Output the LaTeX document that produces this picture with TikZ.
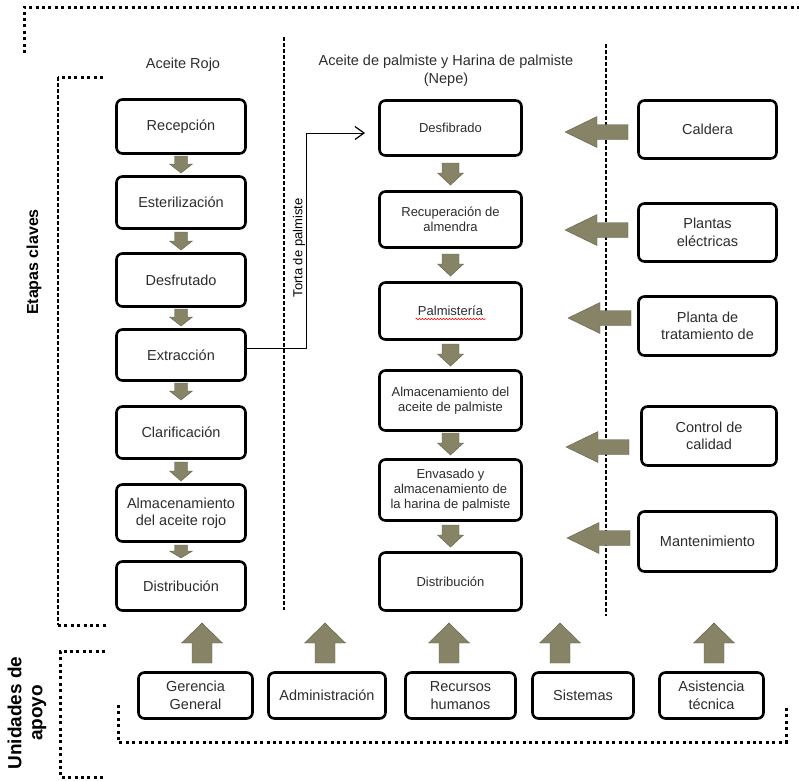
\documentclass[tikz,border=0pt]{standalone}
\usepackage{fontspec}
\setmainfont{Liberation Sans}
\usetikzlibrary{arrows.meta,decorations.pathmorphing}
\definecolor{khaki}{RGB}{134,131,103}
\definecolor{khakidark}{RGB}{96,94,72}
\definecolor{txtgray}{RGB}{45,45,45}
\tikzset{
  box/.style={draw=black, line width=2.6pt, rounded corners=6pt, fill=white, align=center, text=txtgray, inner sep=0pt, font=\fontsize{14.5}{17.5}\selectfont},
  midbox/.style={box, font=\fontsize{13}{15}\selectfont},
  dotline/.style={line width=3pt, dash pattern=on 3pt off 3.4pt},
  dashline/.style={line width=1.6pt, dash pattern=on 4pt off 2pt},
  colline/.style={line width=1.2pt, dash pattern=on 4pt off 2pt},
  blockfill/.style={fill=khaki, draw=khakidark, line width=0.4pt},
  pics/barrow/.style args={#1/#2/#3/#4}{code={
    \filldraw[blockfill] (-#1,-#3) -- (#1,-#3) -- (#1,0) -- (#2,0) -- (0,#4) -- (-#2,0) -- (-#1,0) -- cycle;}},
  header/.style={text=txtgray, align=center, font=\fontsize{14.5}{18}\selectfont},
  sidelabel/.style={rotate=90, align=center, font=\bfseries\fontsize{16}{18}\selectfont},
}
\begin{document}
\begin{tikzpicture}[x=1pt,y=-1pt]
\useasboundingbox (0,0) rectangle (799,780);

% outer dotted frames
\coordinate (topL) at (24,7);
\coordinate (topR) at (799,7);
\coordinate (topD) at (24,53);
\draw[dotline] (topD) -- (topL) -- (topR);

\coordinate (etA) at (103,77);
\coordinate (etB) at (58,77);
\coordinate (etC) at (58,625);
\coordinate (etD) at (107,625);
\draw[dotline] (etA) -- (etB);
\draw[dashline] (etB) -- (etC);
\draw[dotline] (etC) -- (etD);

\coordinate (unA) at (105,651);
\coordinate (unB) at (60,651);
\coordinate (unC) at (60,777);
\coordinate (unD) at (105,777);
\draw[dotline] (unA) -- (unB) -- (unC) -- (unD);

\coordinate (boA) at (118,705);
\coordinate (boB) at (118,742);
\coordinate (boC) at (786,742);
\coordinate (boD) at (786,705);
\draw[dotline] (boA) -- (boB) -- (boC) -- (boD);

% column separators
\coordinate (s1t) at (284,37);
\coordinate (s1b) at (284,610);
\coordinate (s2t) at (606,44);
\coordinate (s2b) at (606,616);
\draw[colline] (s1t) -- (s1b);
\draw[colline] (s2t) -- (s2b);

% side labels
\node[sidelabel] (etapas) at (34,262) {Etapas claves};
\node[sidelabel, font=\bfseries\fontsize{19}{21}\selectfont] (unidades) at (27,713) {Unidades de\\apoyo};

% headers
\node[header] (hrojo) at (183,65) {Aceite Rojo};
\node[header] (hpalm) at (446,71) {Aceite de palmiste y Harina de palmiste\\(Nepe)};

% left column
\node[box, minimum width=129, minimum height=54] (rec) at (181,126.5) {Recepción};
\node[box, minimum width=129, minimum height=52] (est) at (181,202.5) {Esterilización};
\node[box, minimum width=129, minimum height=53] (desf) at (181,280) {Desfrutado};
\node[box, minimum width=129, minimum height=51] (ext) at (181,355) {Extracción};
\node[box, minimum width=129, minimum height=52] (cla) at (181,432.5) {Clarificación};
\node[box, minimum width=129, minimum height=57] (alr) at (181,513) {Almacenamiento\\del aceite rojo};
\node[box, minimum width=129, minimum height=49] (disl) at (181,586) {Distribución};

\pic at (181,164) {barrow=6.5/11.5/8/9};
\pic at (181,241) {barrow=6.5/11.5/9/9};
\pic at (181,317) {barrow=6.5/11.5/8/9};
\pic at (181,391) {barrow=6.5/11.5/8/9};
\pic at (181,471) {barrow=6.5/11.5/9/10};
\pic at (181,551) {barrow=6.5/11.5/6/7};

% middle column
\node[midbox, minimum width=142, minimum height=55] (desfib) at (450.5,128) {Desfibrado};
\node[midbox, minimum width=142, minimum height=56] (recu) at (450.5,219.5) {Recuperación de\\almendra};
\node[midbox, minimum width=142, minimum height=57] (palm) at (450.5,311) {Palmistería};
\node[midbox, minimum width=142, minimum height=60] (alp) at (450.5,400.5) {Almacenamiento del\\aceite de palmiste};
\node[midbox, minimum width=142, minimum height=61] (env) at (450.5,490) {Envasado y\\almacenamiento de\\la harina de palmiste};
\node[midbox, minimum width=142, minimum height=58] (dism) at (450.5,581.5) {Distribución};
\draw[red, line width=0.6pt, decorate, decoration={snake, amplitude=0.7pt, segment length=3pt}]
  ([xshift=-35pt,yshift=-8pt]palm.center) -- ([xshift=35pt,yshift=-8pt]palm.center);

\pic at (450.5,173) {barrow=8.5/13/10/12};
\pic at (450.5,264) {barrow=8.5/13/10/12};
\pic at (450.5,354) {barrow=8.5/13/10/12};
\pic at (450.5,443) {barrow=8.5/13/10/12};
\pic at (450.5,535) {barrow=8.5/13/10/12};

% right column
\node[box, minimum width=138, minimum height=58] (cal) at (707.5,129.5) {Caldera};
\node[box, minimum width=138, minimum height=58] (ple) at (707.5,232.5) {Plantas\\eléctricas};
\node[box, minimum width=138, minimum height=59] (plt) at (707.5,326) {Planta de\\tratamiento de};
\node[box, minimum width=135, minimum height=59] (con) at (709,436) {Control de\\calidad};
\node[box, minimum width=138, minimum height=60] (man) at (707.5,541.5) {Mantenimiento};

\pic[rotate=-90] at (597,132) {barrow=7.5/15.5/31/32};
\pic[rotate=-90] at (597,230) {barrow=7.5/15.5/31/32};
\pic[rotate=-90] at (600,318) {barrow=7.5/15.5/31/32};
\pic[rotate=-90] at (598,447) {barrow=7.5/15.5/31/32};
\pic[rotate=-90] at (599,538) {barrow=7.5/15.5/31/32};

% bottom support units
\node[box, minimum width=114, minimum height=46] (ger) at (195.5,695.5) {Gerencia\\General};
\node[box, minimum width=117, minimum height=46] (adm) at (327,695.5) {Administración};
\node[box, minimum width=110, minimum height=46] (rrh) at (460.5,695.5) {Recursos\\humanos};
\node[box, minimum width=101, minimum height=46] (sis) at (583,695.5) {Sistemas};
\node[box, minimum width=104, minimum height=46] (asi) at (711.5,695.5) {Asistencia\\técnica};

\pic[rotate=180] at (202,643) {barrow=10/20.5/20/20};
\pic[rotate=180] at (325,643) {barrow=10/20.5/20/20};
\pic[rotate=180] at (449,643) {barrow=10/20.5/20/20};
\pic[rotate=180] at (560,643) {barrow=10/20.5/20/20};
\pic[rotate=180] at (714,643) {barrow=10/20.5/20/20};

% torta de palmiste connector
\coordinate (tortaend) at (365,133);
\draw[line width=1pt, -{Straight Barb[length=9pt,width=13pt,line width=1.2pt]}]
  ([yshift=7pt]ext.east) -- ++(60,0) |- (tortaend);
\node[rotate=90, font=\fontsize{13}{15}\selectfont] (torta) at (299,248) {Torta de palmiste};
\end{tikzpicture}
\end{document}
